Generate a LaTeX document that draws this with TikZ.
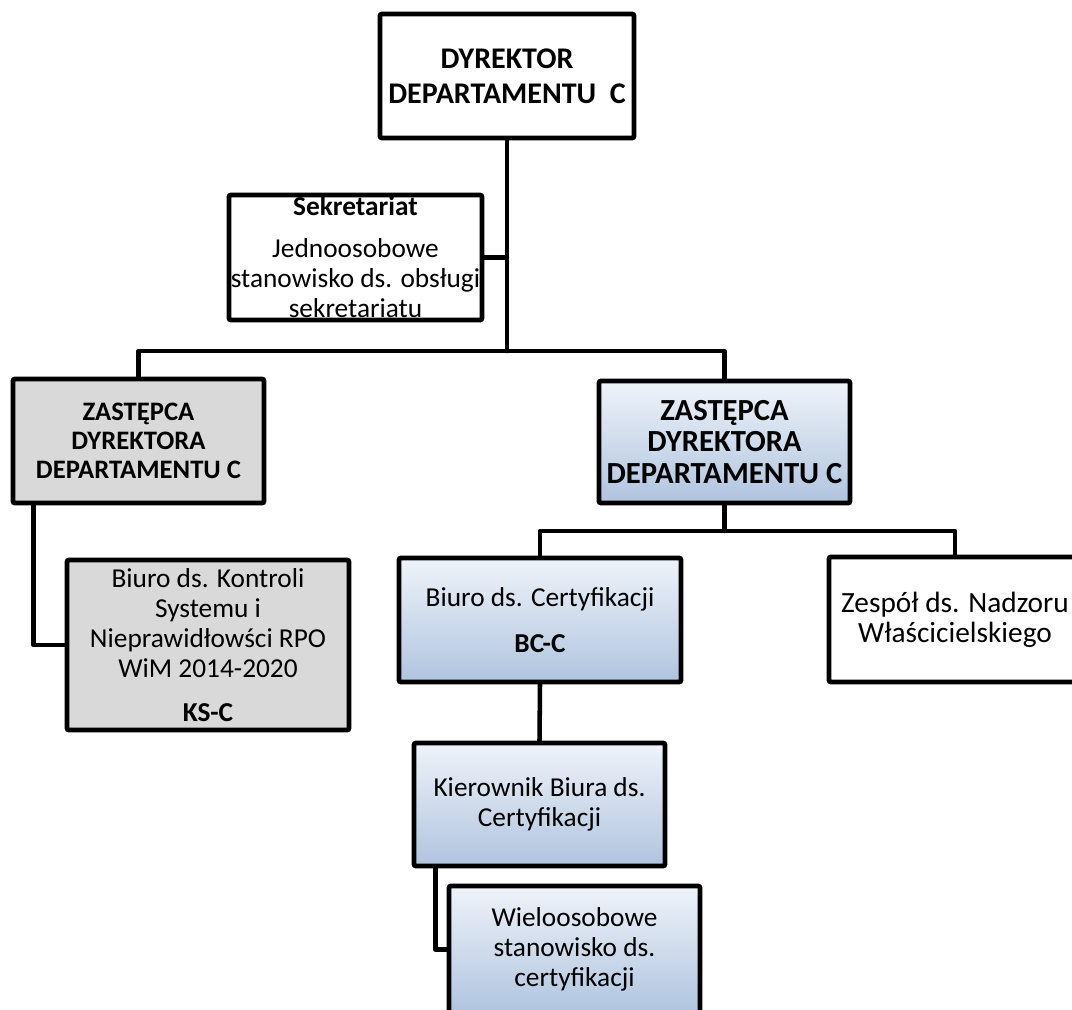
\documentclass[tikz,border=0pt]{standalone}
\usepackage{fontspec}
\setmainfont{Carlito}
\definecolor{gTop}{HTML}{EFF3F9}
\definecolor{gBot}{HTML}{B0C4DF}
\definecolor{grayfill}{HTML}{D9D9D9}
\tikzset{
  orgbox/.style={draw=black, line width=3.6pt, rounded corners=1.5pt, align=center, inner sep=0pt},
  bluebox/.style={orgbox, top color=gTop, bottom color=gBot},
  graybox/.style={orgbox, fill=grayfill},
  whitebox/.style={orgbox, fill=white},
  conn/.style={line width=3.4pt, line cap=round, line join=round},
  bodyfont/.style={font=\fontsize{20.5}{22.5}\selectfont},
}
\begin{document}
\begin{tikzpicture}[x=0.75pt, y=-0.75pt]
\useasboundingbox (0,0) rectangle (1072,1010);
\clip (0,0) rectangle (1072,1010);
\fill[white] (0,0) rectangle (1072,1010);

% nodes
\node[whitebox, minimum width=254*0.75pt, minimum height=124*0.75pt,
      font=\fontsize{22.5}{26}\selectfont\bfseries] (dir) at (507,76)
      {DYREKTOR\\DEPARTAMENTU\ \ C};
\node[whitebox, bodyfont, minimum width=253*0.75pt, minimum height=125*0.75pt] (sek) at (355.5,257.5)
      {\textbf{Sekretariat}\\[9pt]Jednoosobowe\\stanowisko ds. obsługi\\sekretariatu};
\node[graybox, minimum width=251*0.75pt, minimum height=124*0.75pt,
      font=\fontsize{20}{22}\selectfont\bfseries] (zl) at (138.5,441)
      {ZASTĘPCA\\DYREKTORA\\DEPARTAMENTU C};
\node[bluebox, minimum width=251*0.75pt, minimum height=122*0.75pt,
      font=\fontsize{23}{23.5}\selectfont\bfseries] (zr) at (724.5,442)
      {ZASTĘPCA\\DYREKTORA\\DEPARTAMENTU C};
\node[graybox, bodyfont, minimum width=282*0.75pt, minimum height=170*0.75pt] (ks) at (208,645)
      {Biuro ds. Kontroli\\Systemu i\\Nieprawidłowści RPO\\WiM 2014-2020\\[10pt]\textbf{KS-C}};
\node[bluebox, bodyfont, minimum width=282*0.75pt, minimum height=124*0.75pt] (bc) at (540,620)
      {Biuro ds. Certyfikacji\\[12pt]\textbf{BC-C}};
\node[whitebox, minimum width=252*0.75pt, minimum height=125*0.75pt,
      font=\fontsize{22}{22.5}\selectfont] (zes) at (955,619.5)
      {Zespół ds. Nadzoru\\Właścicielskiego};
\node[bluebox, bodyfont, minimum width=251*0.75pt, minimum height=123*0.75pt] (kier) at (539.5,804.5)
      {Kierownik Biura ds.\\Certyfikacji};
\node[bluebox, bodyfont, minimum width=251*0.75pt, minimum height=127*0.75pt] (wie) at (574.5,949.5)
      {Wieloosobowe\\stanowisko ds.\\certyfikacji};

% junctions
\coordinate (j1) at (507,351);
\coordinate (j2) at (724.5,531);

% connectors
\draw[conn] (dir.south) -- (j1);
\draw[conn] (sek.east) -- (sek.east -| j1);
\draw[conn] (j1) -| (zl.north);
\draw[conn] (j1) -| (zr.north);
\draw[conn] (zl.south west) ++(23,0) |- (ks.west);
\draw[conn] (zr.south) -- (j2);
\draw[conn] (j2) -| (bc.north);
\draw[conn] (j2) -| (zes.north);
\draw[conn] (bc.south) -- (kier.north);
\draw[conn] (kier.south west) ++(24,0) |- (wie.west);
\end{tikzpicture}
\end{document}
